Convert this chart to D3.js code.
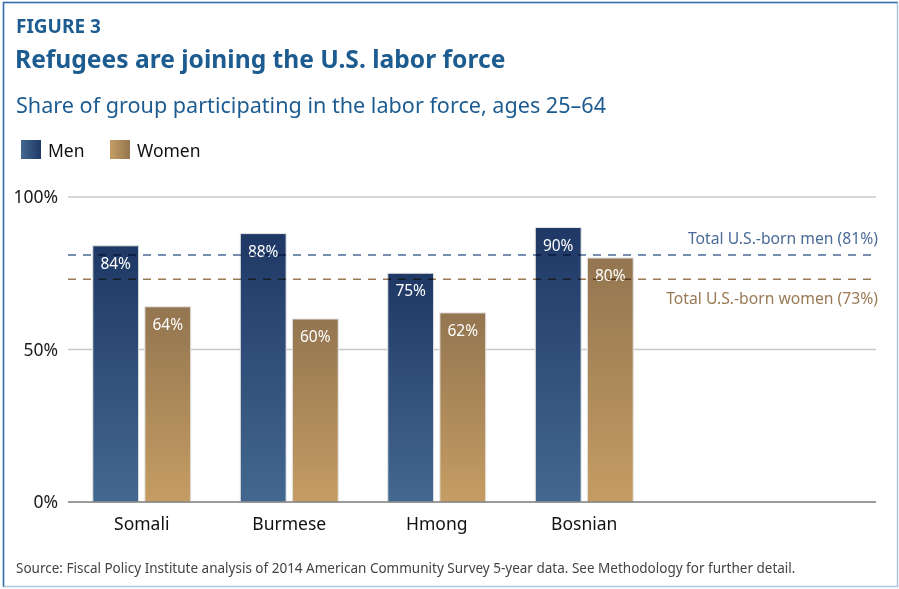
<!DOCTYPE html>
<html><head><meta charset="utf-8">
<script src="https://cdn.jsdelivr.net/npm/d3@7"></script>
<style>
body{margin:0;background:#fff;}
svg{display:block;font-family:"Noto Sans",sans-serif;}
</style></head>
<body><svg id="c" width="899" height="589"></svg>
<script>
const categories = ["Somali","Burmese","Hmong","Bosnian"];
const series = ["Men","Women"];
const men = [84,88,75,90];
const women = [64,60,62,80];
const yTicks = [0,50,100];
const refMen = 81, refWomen = 73;
const refLabels = ["Total U.S.-born men (81%)","Total U.S.-born women (73%)"];

const svg = d3.select("#c");
const defs = svg.append("defs");
function grad(id,top,bot,horiz){
  const g = defs.append("linearGradient").attr("id",id)
    .attr("x1",0).attr("y1",0).attr("x2",horiz?1:0).attr("y2",horiz?0:1);
  g.append("stop").attr("offset","0%").attr("stop-color",top);
  g.append("stop").attr("offset","100%").attr("stop-color",bot);
}
grad("gMen","#1f3866","#43688f");
grad("gWomen","#937550","#c59d63");
grad("lMen","#43688f","#1f3866",true);
grad("lWomen","#c59d63","#937550",true);

// frame
svg.append("rect").attr("x",3.5).attr("y",2.5).attr("width",894).attr("height",584)
  .attr("fill","none").attr("stroke","#a9c6de").attr("stroke-width",1.5);
svg.append("path").attr("d","M3.5,586.5V2.5H897.5").attr("fill","none").attr("stroke","#3a70a8").attr("stroke-width",1.5);

svg.append("text").attr("x",16).attr("y",33).attr("fill","#1d5c91").attr("font-weight","bold")
  .attr("font-size",19).text("FIGURE 3");
svg.append("text").attr("x",15).attr("y",68).attr("fill","#1d5c91").attr("font-weight","bold")
  .attr("font-size",24.6).text("Refugees are joining the U.S. labor force");
svg.append("text").attr("x",16).attr("y",113).attr("fill","#1d5c91")
  .attr("font-size",21.6).text("Share of group participating in the labor force, ages 25–64");

// legend
const leg = svg.append("g");
[["Men","lMen",21],["Women","lWomen",110]].forEach(([t,g,x])=>{
  leg.append("rect").attr("x",x).attr("y",140).attr("width",20).attr("height",19).attr("fill",`url(#${g})`);
  leg.append("text").attr("x",x+27).attr("y",157).attr("font-size",17.5).attr("fill","#111").text(t);
});

const x0=68,x1=876;
const y = d3.scaleLinear().domain([0,100]).range([502,197]);
const x = d3.scaleBand().domain(categories).range([68,658]).paddingInner(0.336).paddingOuter(0.168);
const xs = d3.scaleBand().domain(series).range([0,x.bandwidth()]).paddingInner(0.12);

// grid
const g = svg.append("g");
g.selectAll("line.grid").data(yTicks.filter(d=>d>0)).join("line")
  .attr("x1",x0).attr("x2",x1).attr("y1",d=>y(d)).attr("y2",d=>y(d))
  .attr("stroke","#c8c8c8").attr("stroke-width",1.3);
g.selectAll("text.yl").data(yTicks).join("text")
  .attr("x",58).attr("y",d=>y(d)).attr("dy","0.35em").attr("text-anchor","end")
  .attr("font-size",17.5).attr("fill","#1a1a1a").text(d=>d+"%");

// bars
const data = categories.map((c,i)=>({c, vals:[{s:"Men",v:men[i]},{s:"Women",v:women[i]}]}));
const grp = g.selectAll("g.cat").data(data).join("g").attr("transform",d=>`translate(${x(d.c)},0)`);
grp.selectAll("rect").data(d=>d.vals).join("rect")
  .attr("x",d=>xs(d.s)).attr("width",xs.bandwidth())
  .attr("y",d=>y(d.v)).attr("height",d=>y(0)-y(d.v))
  .attr("fill",d=>d.s==="Men"?"url(#gMen)":"url(#gWomen)")
  .attr("stroke","#e4e4e4").attr("stroke-width",1);
grp.selectAll("text.v").data(d=>d.vals).join("text")
  .attr("x",d=>xs(d.s)+xs.bandwidth()/2).attr("y",d=>y(d.v)+23)
  .attr("text-anchor","middle").attr("font-size",15.5).attr("fill","#fff").text(d=>d.v+"%");

// baseline
g.append("line").attr("x1",x0).attr("x2",x1).attr("y1",y(0)).attr("y2",y(0)).attr("stroke","#7a7a7a").attr("stroke-width",1.5);

// category labels
g.selectAll("text.cat").data(categories).join("text")
  .attr("x",d=>x(d)+x.bandwidth()/2).attr("y",530).attr("text-anchor","middle")
  .attr("font-size",17.5).attr("fill","#111").text(d=>d);

// reference lines
[[refMen,"#4a6b98",refLabels[0],-11],[refWomen,"#9a7a55",refLabels[1],25]].forEach(([v,c,t,dy])=>{
  g.append("line").attr("x1",x0).attr("x2",x1).attr("y1",y(v)).attr("y2",y(v))
    .attr("stroke",c).attr("stroke-width",1.5).attr("stroke-dasharray","8,7")
    .style("mix-blend-mode","multiply");
  g.append("text").attr("x",878).attr("y",y(v)+dy).attr("text-anchor","end")
    .attr("font-size",15.7).attr("fill",c).text(t);
});

svg.append("text").attr("x",16).attr("y",573).attr("font-size",13.5).attr("fill","#444")
  .text("Source: Fiscal Policy Institute analysis of 2014 American Community Survey 5-year data. See Methodology for further detail.");
</script></body></html>
